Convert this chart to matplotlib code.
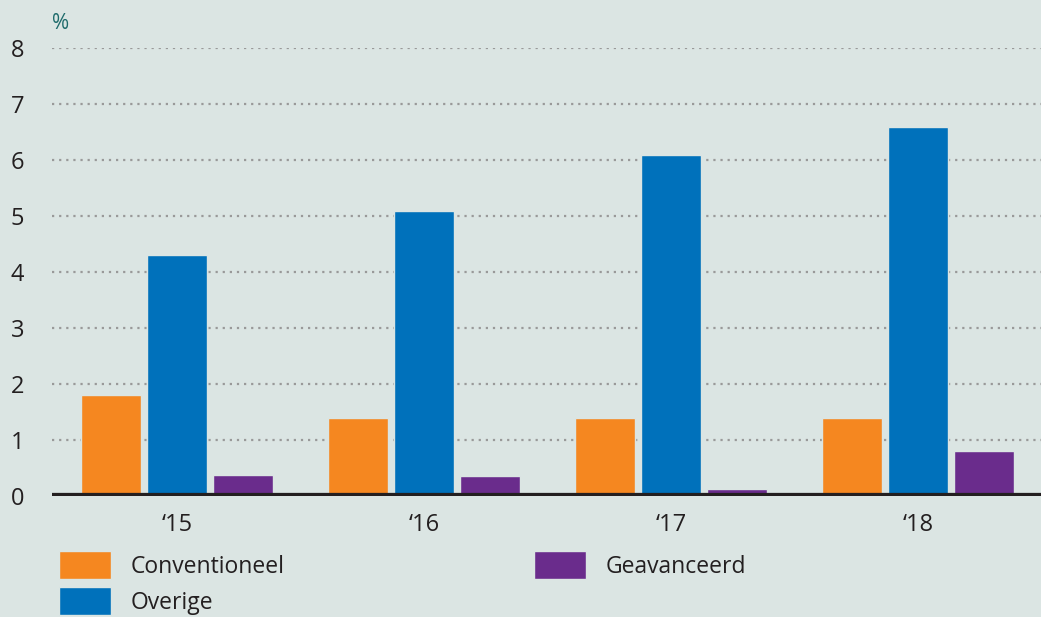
import numpy as np
import matplotlib.pyplot as plt

jaren = ["‘15", "‘16", "‘17", "‘18"]
conventioneel = [1.8, 1.4, 1.4, 1.4]
overige = [4.3, 5.1, 6.1, 6.6]
geavanceerd = [0.38, 0.36, 0.12, 0.8]

bg = '#dbe5e3'
tekst = '#231f20'
plt.rcParams['font.family'] = ['Open Sans', 'DejaVu Sans']

fig = plt.figure(figsize=(10.41, 6.17), dpi=100, facecolor=bg)
ax = fig.add_axes([0.05, 0.196, 0.95, 0.726], facecolor=bg)

x = np.arange(len(jaren))
w = 0.243
d = 0.267
ax.bar(x - d, conventioneel, w, color='#f58720', edgecolor=bg, linewidth=1, label='Conventioneel', zorder=3)
ax.bar(x, overige, w, color='#0071bb', edgecolor=bg, linewidth=1, label='Overige', zorder=3)
ax.bar(x + d, geavanceerd, w, color='#6a2c8c', edgecolor=bg, linewidth=1, label='Geavanceerd', zorder=3)

ax.set_xlim(-0.506, 3.498)
ax.set_ylim(0, 8)
ax.set_yticks(range(0, 9))
ax.set_xticks(x)
ax.set_xticklabels(jaren)
ax.yaxis.grid(True, color='#999999', linestyle=(0, (1, 2.2)), linewidth=1.6, zorder=0)
ax.set_axisbelow(True)
for s in ax.spines.values():
    s.set_visible(False)
ax.axhline(0, color=tekst, linewidth=4.5, zorder=4)
ax.tick_params(length=0, labelsize=17, colors=tekst)
ax.tick_params(axis='y', pad=20)
ax.tick_params(axis='x', pad=12)
for lab in ax.get_yticklabels():
    lab.set_horizontalalignment('right')

fig.text(0.05, 0.962, '%', color='#1e6b6b', fontsize=15, va='center', ha='left')

fig.legend(loc='upper left', bbox_to_anchor=(0.057, 0.107), ncol=2, frameon=False,
           borderaxespad=0, borderpad=0,
           fontsize=16.5, handlelength=2.27, handleheight=1.5, handletextpad=0.83,
           columnspacing=10.9, labelspacing=0.35, labelcolor=tekst)

fig.savefig('out.png', dpi=100, facecolor=bg)
